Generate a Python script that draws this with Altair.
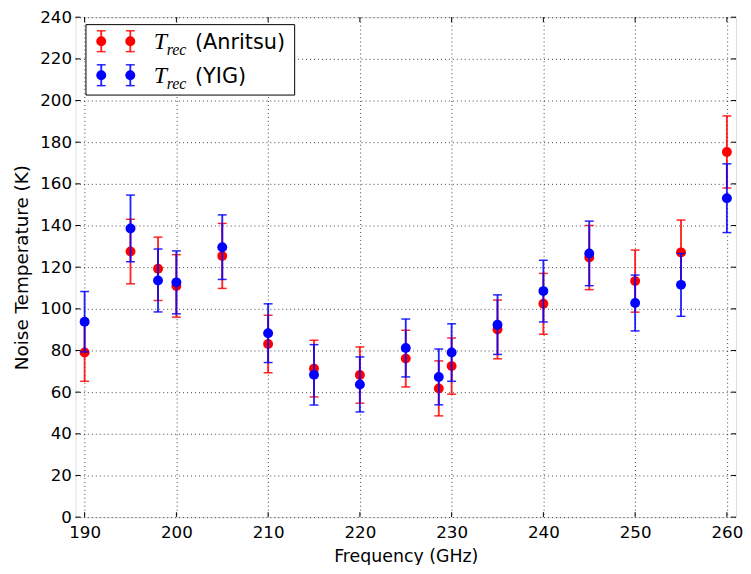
import altair as alt
import pandas as pd

# ---- data ----
freq = [190, 195, 198, 200, 205, 210, 215, 220, 225, 228.6, 230, 235, 240, 245, 250, 255, 260]
anritsu = [79.0, 127.5, 119.2, 111.0, 125.4, 83.1, 71.3, 68.2, 76.1, 61.8, 72.5, 90.1, 102.4, 124.6, 113.3, 127.1, 175.3]
anritsu_err = [13.8, 15.5, 15.2, 15.0, 15.6, 13.8, 13.6, 13.5, 13.6, 13.2, 13.5, 14.1, 14.6, 15.4, 14.9, 15.5, 17.3]
yig = [93.8, 138.6, 113.6, 112.7, 129.6, 88.3, 68.3, 63.7, 81.2, 67.3, 79.0, 92.4, 108.5, 126.6, 102.8, 111.5, 153.1]
yig_err = [14.5, 16.0, 15.1, 15.1, 15.5, 14.1, 14.5, 13.2, 13.9, 13.4, 13.8, 14.3, 14.8, 15.5, 13.4, 15.1, 16.5]

series_names = ["(Anritsu)", "(YIG)"]
series_colors = ["#ff0000", "#0000ff"]

x_ticks = [190, 200, 210, 220, 230, 240, 250, 260]
y_ticks = [0, 20, 40, 60, 80, 100, 120, 140, 160, 180, 200, 220, 240]

W, H = 666, 504
FONT = "DejaVu Sans"

xscale = alt.Scale(domain=[189, 261], nice=False, zero=False)
yscale = alt.Scale(domain=[0, 240], nice=False, zero=False)

xaxis = alt.Axis(values=x_ticks, title="Frequency (GHz)", grid=True, gridColor="#000000",
                 gridDash=[1, 3], gridOpacity=0.75, gridWidth=1, ticks=False, domain=False,
                 labelFont=FONT, labelFontSize=16.8, labelColor="#000", labelPadding=8,
                 titleFont=FONT, titleFontSize=17.5, titleFontWeight="normal", titleColor="#000",
                 titlePadding=6, format="d", labelFlush=False)
yaxis = alt.Axis(values=y_ticks, title="Noise Temperature (K)", grid=True, gridColor="#000000",
                 gridDash=[1, 3], gridOpacity=0.75, gridWidth=1, ticks=False, domain=False,
                 labelFont=FONT, labelFontSize=16.8, labelColor="#000", labelPadding=4,
                 titleFont=FONT, titleFontSize=18.5, titleFontWeight="normal", titleColor="#000",
                 titlePadding=8, format="d", labelFlush=False)


def X(field):
    return alt.X(field, scale=xscale, axis=xaxis)


def Y(field):
    return alt.Y(field, scale=yscale, axis=yaxis)


def series_layers(values, errs, color):
    df = pd.DataFrame({"f": freq, "t": values,
                       "lo": [v - e for v, e in zip(values, errs)],
                       "hi": [v + e for v, e in zip(values, errs)]})
    base = alt.Chart(df)
    bars = base.mark_rule(color=color, strokeWidth=1.9, opacity=0.85).encode(
        x=X("f:Q"), y=Y("lo:Q"), y2="hi:Q")
    cap_lo = base.mark_tick(color=color, orient="horizontal", size=9, thickness=1.5, opacity=0.85).encode(
        x=X("f:Q"), y=Y("lo:Q"))
    cap_hi = base.mark_tick(color=color, orient="horizontal", size=9, thickness=1.5, opacity=0.85).encode(
        x=X("f:Q"), y=Y("hi:Q"))
    pts = base.mark_circle(color=color, size=100, opacity=1).encode(
        x=X("f:Q"), y=Y("t:Q"))
    return [bars, cap_lo, cap_hi, pts]


layers = []
layers += series_layers(anritsu, anritsu_err, series_colors[0])
layers += series_layers(yig, yig_err, series_colors[1])

# inward ticks on all four sides
xt = alt.Chart(pd.DataFrame({"f": x_ticks}))
yt = alt.Chart(pd.DataFrame({"t": y_ticks}))
tick_style = dict(color="#000", strokeWidth=1)
layers.append(xt.mark_rule(**tick_style).encode(
    x=X("f:Q"), y=alt.value(H), y2=alt.value(H - 5)))
layers.append(xt.mark_rule(**tick_style).encode(
    x=X("f:Q"), y=alt.value(0), y2=alt.value(5)))
layers.append(yt.mark_rule(**tick_style).encode(
    y=Y("t:Q"), x=alt.value(0), x2=alt.value(5)))
layers.append(yt.mark_rule(**tick_style).encode(
    y=Y("t:Q"), x=alt.value(W - 5), x2=alt.value(W)))

# ---- custom legend (matplotlib style, two markers per entry) ----
leg = alt.Chart(pd.DataFrame({"k": [0]}))
top = 7.5
layers.append(leg.mark_rect(fill="white", stroke="#000", strokeWidth=1).encode(
    x=alt.value(10.6), x2=alt.value(221), y=alt.value(top), y2=alt.value(top + 71)))
row_y = [top + 16.7, top + 51]
for i, (name, col) in enumerate(zip(series_names, series_colors)):
    cy = row_y[i]
    for mx in [26, 55.3]:
        layers.append(leg.mark_rule(color=col, strokeWidth=1.9, opacity=0.85).encode(
            x=alt.value(mx), y=alt.value(cy - 10.5), y2=alt.value(cy + 10.5)))
        for cyy in [cy - 10.5, cy + 10.5]:
            layers.append(leg.mark_rule(color=col, strokeWidth=1.5, opacity=0.85).encode(
                x=alt.value(mx - 4.5), x2=alt.value(mx + 4.5), y=alt.value(cyy)))
        layers.append(leg.mark_circle(color=col, size=100, opacity=1).encode(
            x=alt.value(mx), y=alt.value(cy)))
    layers.append(leg.mark_text(text="T", font="Liberation Serif", fontStyle="italic", fontSize=24,
                                align="left", baseline="alphabetic", color="#000").encode(
        x=alt.value(79), y=alt.value(cy + 8.3)))
    layers.append(leg.mark_text(text="rec", font="Liberation Serif", fontStyle="italic", fontSize=16,
                                align="left", baseline="alphabetic", color="#000").encode(
        x=alt.value(92), y=alt.value(cy + 13.5)))
    layers.append(leg.mark_text(text=name, font=FONT, fontSize=21,
                                align="left", baseline="alphabetic", color="#000").encode(
        x=alt.value(120.5), y=alt.value(cy + 8.3)))

chart = alt.layer(*layers).properties(
    width=W, height=H,
    autosize=alt.AutoSizeParams(type="none"),
    padding={"left": 68, "top": 7, "right": 7, "bottom": 46},
).configure_view(stroke="#000", strokeWidth=1.3).configure(background="white")

chart.save("out.html", embed_options={"renderer": "svg", "actions": False})
